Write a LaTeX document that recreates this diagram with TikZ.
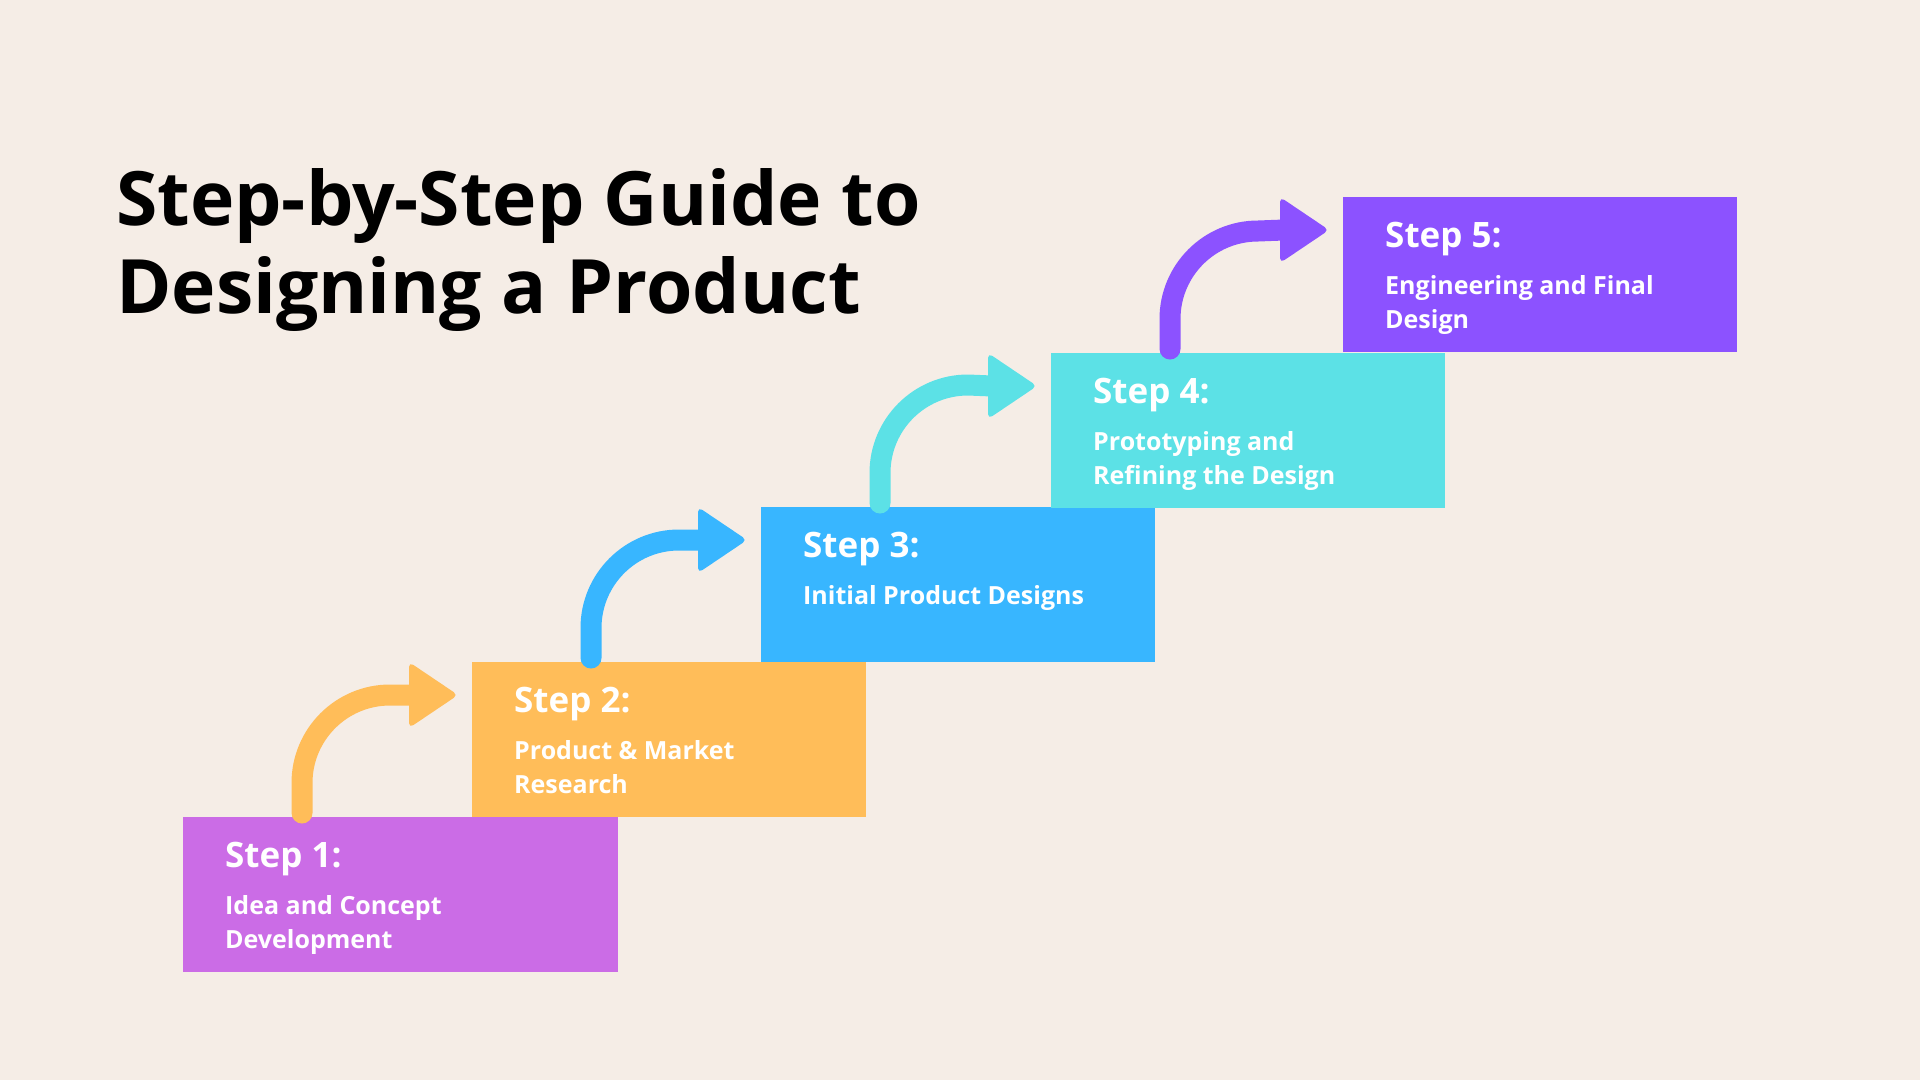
\documentclass[tikz,border=0pt]{standalone}
\usepackage{fontspec}
\setmainfont{Open Sans}
\usetikzlibrary{calc}
\definecolor{bg}{HTML}{F5EDE6}
\definecolor{cA}{HTML}{CB6CE6}
\definecolor{cB}{HTML}{FFBD59}
\definecolor{cC}{HTML}{38B6FF}
\definecolor{cD}{HTML}{5CE1E6}
\definecolor{cE}{HTML}{8C52FF}
\newcommand\mkarrow[3]{%
  \coordinate (#1st) at ($(#1.north west)+(119,-4)$);
  \coordinate (#1tip) at ($(#2.north west)+(-14,33)$);
  \draw[arrowline, draw=#3] (#1st) -- ($(#1st)+(0,-30)$)
    .. controls ($(#1st)+(0,-78.6)$) and ($(#1st)+(39.4,-118)$) .. ($(#1st)+(88,-118)$)
    -- ($(#1tip)+(-45,0)$);
  \fill[#3, rounded corners=5] (#1tip) -- ($(#1tip)+(-49,-33)$) -- ($(#1tip)+(-49,33)$) -- cycle;
}
\begin{document}
\begin{tikzpicture}[x=1pt,y=-1pt,
  box/.style={draw=none, inner sep=0, outer sep=0, anchor=north west, minimum height=155},
  head/.style={anchor=base west, inner sep=0, text=white, font=\bfseries\fontsize{35}{40}\selectfont},
  desc/.style={anchor=base west, inner sep=0, text=white, align=left, font=\bfseries\fontsize{25}{34}\selectfont},
  arrowline/.style={line width=21, line cap=round},
  titletext/.style={anchor=base west, inner sep=0, text=black, font=\bfseries\fontsize{75}{88}\selectfont}]
\fill[bg] (0,0) rectangle (1920,1080);
\useasboundingbox (0,0) rectangle (1920,1080);
\node[titletext] (t1) at (116,225) {Step-by-Step Guide to};
\node[titletext] (t2) at (116,313) {Designing a Product};
\node[box, fill=cA, minimum width=435] (s1) at (183,817) {};
\node[box, fill=cB, minimum width=394] (s2) at (472,662) {};
\node[box, fill=cC, minimum width=394] (s3) at (761,507) {};
\node[box, fill=cD, minimum width=394] (s4) at (1051,353) {};
\node[box, fill=cE, minimum width=394] (s5) at (1343,197) {};
\mkarrow{s1}{s2}{cB}
\mkarrow{s2}{s3}{cC}
\mkarrow{s3}{s4}{cD}
\mkarrow{s4}{s5}{cE}
\foreach \s/\n in {s1/1,s2/2,s3/3,s4/4,s5/5}{
  \node[head] (\s h) at ($(\s.north west)+(42,50)$) {Step \n:};
}
\node[desc] (s1d) at ($(s1.north west)+(42,131)$) {Idea and Concept\\Development};
\node[desc] (s2d) at ($(s2.north west)+(42,131)$) {Product \& Market\\Research};
\node[desc] (s3d) at ($(s3.north west)+(42,97)$) {Initial Product Designs};
\node[desc] (s4d) at ($(s4.north west)+(42,131)$) {Prototyping and\\Refining the Design};
\node[desc] (s5d) at ($(s5.north west)+(42,131)$) {Engineering and Final\\Design};
\end{tikzpicture}
\end{document}
